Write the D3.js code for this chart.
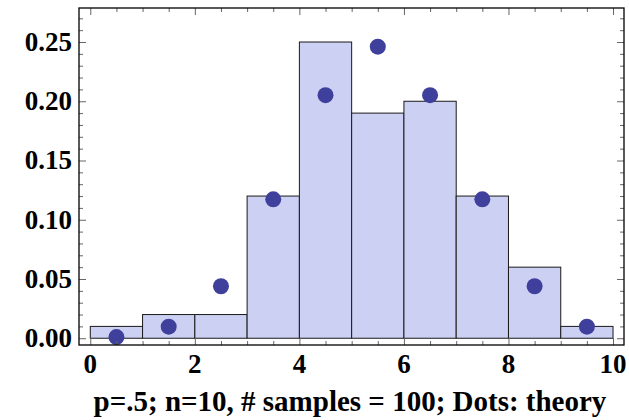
<!DOCTYPE html>
<html>
<head>
<meta charset="utf-8">
<script src="https://cdn.jsdelivr.net/npm/d3@7"></script>
<style>
  html, body { margin: 0; padding: 0; background: #fff; }
  svg { display: block; }
  text { font-family: "Liberation Serif", "Times New Roman", serif; font-weight: bold; fill: #000; }
</style>
</head>
<body>
<svg id="chart" width="629" height="420"></svg>
<script>
// Histogram of 100 samples, bins of width 1 on [0, 10]
const binStarts = [0, 1, 2, 3, 4, 5, 6, 7, 8, 9];
const binFreqs  = [0.01, 0.02, 0.02, 0.12, 0.25, 0.19, 0.20, 0.12, 0.06, 0.01];

// Theoretical binomial probabilities, placed at bin centres
const dotX = [0.5, 1.5, 2.5, 3.5, 4.5, 5.5, 6.5, 7.5, 8.5, 9.5];
const dotP = [0.001, 0.0098, 0.0439, 0.1172, 0.2051, 0.2461, 0.2051, 0.1172, 0.0439, 0.0098];

const xTickValues = [0, 2, 4, 6, 8, 10];
const yTickValues = [0.00, 0.05, 0.10, 0.15, 0.20, 0.25];
const caption = "p=.5; n=10, # samples = 100; Dots: theory";

const svg = d3.select("#chart");
const frame = { left: 79, right: 624, top: 8, bottom: 345 };

const x = d3.scaleLinear().domain([-0.216, 10.21]).range([frame.left, frame.right]);
const y = d3.scaleLinear().domain([-0.0057, 0.2787]).range([frame.bottom, frame.top]);

// bars
svg.append("g")
  .selectAll("rect")
  .data(binStarts)
  .join("rect")
  .attr("x", (d) => x(d))
  .attr("y", (d, i) => y(binFreqs[i]))
  .attr("width", (d) => x(d + 1) - x(d))
  .attr("height", (d, i) => y(0) - y(binFreqs[i]))
  .attr("fill", "#ccd1f4")
  .attr("stroke", "#1a1a1a")
  .attr("stroke-width", 1);

// theory dots
svg.append("g")
  .selectAll("circle")
  .data(dotX)
  .join("circle")
  .attr("cx", (d) => x(d))
  .attr("cy", (d, i) => y(dotP[i]))
  .attr("r", 8)
  .attr("fill", "#3f3f9c");

// frame ticks: majors plus minors on all four sides
const xMinor = d3.range(0, 10.001, 0.5).filter((v) => Math.abs(v / 2 - Math.round(v / 2)) > 1e-6);
const yMinor = d3.range(0, 0.2701, 0.01).filter((v) => Math.abs(v / 0.05 - Math.round(v / 0.05)) > 1e-6);

function axisTicks(axis, vals, size) {
  return axis.tickValues(vals).tickSize(size).tickFormat("");
}

const tickGroups = [
  svg.append("g").attr("transform", `translate(0,${frame.bottom})`).call(axisTicks(d3.axisTop(x), xTickValues, 7)),
  svg.append("g").attr("transform", `translate(0,${frame.bottom})`).call(axisTicks(d3.axisTop(x), xMinor, 4)),
  svg.append("g").attr("transform", `translate(0,${frame.top})`).call(axisTicks(d3.axisBottom(x), xTickValues, 7)),
  svg.append("g").attr("transform", `translate(0,${frame.top})`).call(axisTicks(d3.axisBottom(x), xMinor, 4)),
  svg.append("g").attr("transform", `translate(${frame.left},0)`).call(axisTicks(d3.axisRight(y), yTickValues, 7)),
  svg.append("g").attr("transform", `translate(${frame.left},0)`).call(axisTicks(d3.axisRight(y), yMinor, 4)),
  svg.append("g").attr("transform", `translate(${frame.right},0)`).call(axisTicks(d3.axisLeft(y), yTickValues, 7)),
  svg.append("g").attr("transform", `translate(${frame.right},0)`).call(axisTicks(d3.axisLeft(y), yMinor, 4))
];
tickGroups.forEach((g) => {
  g.select(".domain").remove();
  g.selectAll("line").attr("stroke", "#666").attr("stroke-width", 1);
  g.selectAll("text").remove();
});

// frame border
svg.append("rect")
  .attr("x", frame.left)
  .attr("y", frame.top)
  .attr("width", frame.right - frame.left)
  .attr("height", frame.bottom - frame.top)
  .attr("fill", "none")
  .attr("stroke", "#000")
  .attr("stroke-width", 1.3);

// tick labels
svg.append("g")
  .selectAll("text")
  .data(xTickValues)
  .join("text")
  .attr("x", (d) => x(d))
  .attr("y", 373)
  .attr("text-anchor", "middle")
  .attr("font-size", 27)
  .text((d) => d3.format("d")(d));

svg.append("g")
  .selectAll("text")
  .data(yTickValues)
  .join("text")
  .attr("x", 72)
  .attr("y", (d) => y(d))
  .attr("dy", "0.33em")
  .attr("text-anchor", "end")
  .attr("font-size", 27)
  .text((d) => d3.format(".2f")(d));

// caption
svg.append("text")
  .attr("x", 350)
  .attr("y", 411)
  .attr("text-anchor", "middle")
  .attr("font-size", 29)
  .text(caption);
</script>
</body>
</html>
